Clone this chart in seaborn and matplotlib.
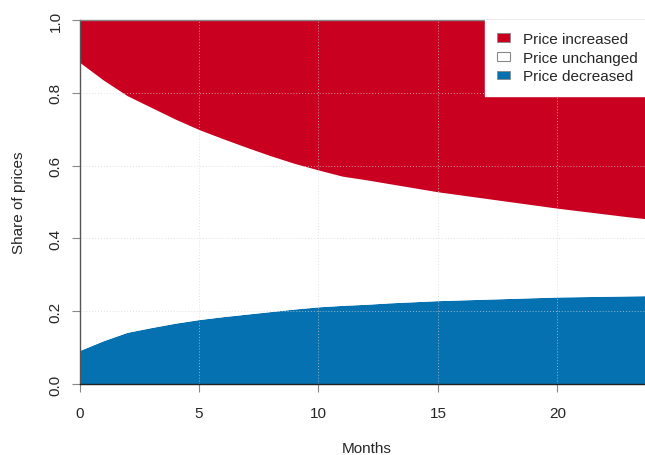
import matplotlib
matplotlib.use("Agg")
import matplotlib.pyplot as plt
import seaborn as sns
import pandas as pd
from matplotlib.patches import Patch

# =========================
# DATA (shares)
# =========================
months = list(range(0, 25))
share_decreased = [0.092, 0.119, 0.142, 0.155, 0.167, 0.177, 0.185, 0.192, 0.199, 0.206,
                   0.212, 0.216, 0.219, 0.223, 0.226, 0.229, 0.231, 0.233, 0.235, 0.237,
                   0.239, 0.240, 0.241, 0.242, 0.243]
share_unchanged = [0.792, 0.716, 0.650, 0.605, 0.561, 0.522, 0.489, 0.458, 0.428, 0.400,
                   0.376, 0.355, 0.342, 0.327, 0.313, 0.299, 0.288, 0.277, 0.266, 0.255,
                   0.244, 0.235, 0.226, 0.217, 0.209]
share_increased = [0.116, 0.165, 0.208, 0.240, 0.272, 0.301, 0.326, 0.350, 0.373, 0.394,
                   0.412, 0.429, 0.439, 0.450, 0.461, 0.472, 0.481, 0.490, 0.499, 0.508,
                   0.517, 0.525, 0.533, 0.541, 0.548]
labels = ["Price increased", "Price unchanged", "Price decreased"]

df = pd.DataFrame({"month": months, "decreased": share_decreased,
                   "unchanged": share_unchanged, "increased": share_increased})

# =========================
# STYLE
# =========================
sns.set_style("white")
plt.rcParams['font.family'] = ['Liberation Sans', 'DejaVu Sans']

red = "#ca0020"
blue = "#0571b0"

fig = plt.figure(figsize=(6.45, 4.56), dpi=100)
ax = fig.add_axes([79.5 / 645, 1 - 385 / 456, (653 - 79.5) / 645, (385 - 21) / 456])

ax.stackplot(df["month"], df["decreased"], df["unchanged"], df["increased"],
             colors=[blue, "white", red], linewidth=0, zorder=1)

ax.set_xlim(0, 24)
ax.set_ylim(0, 1)
ax.set_xticks([0, 5, 10, 15, 20])
ax.set_yticks([0.0, 0.2, 0.4, 0.6, 0.8, 1.0])
ax.set_yticklabels(["0.0", "0.2", "0.4", "0.6", "0.8", "1.0"], rotation=90, va="center")

# grid on top of areas, like R's grid()
for x in [5, 10, 15, 20]:
    ax.axvline(x, color="#d3d3d3", linestyle=(0, (1, 2)), linewidth=0.7, alpha=0.7, zorder=2)
for y in [0.2, 0.4, 0.6, 0.8]:
    ax.axhline(y, color="#d3d3d3", linestyle=(0, (1, 2)), linewidth=0.7, alpha=0.7, zorder=2)

ax.spines["right"].set_visible(False)
ax.spines["left"].set_color("#555555")
ax.spines["top"].set_color("#888888")
ax.spines["bottom"].set_color("#222222")
for sp in ax.spines.values():
    sp.set_linewidth(1.0)

ax.tick_params(axis="both", which="both", direction="out", length=6, width=0.8,
               color="#888888", labelsize=11, pad=6, left=True, bottom=True)
ax.tick_params(axis="x", pad=10)

ax.set_xlabel("Months", fontsize=11, va="center")
ax.xaxis.set_label_coords(0.5, -(449 - 385) / 364)
ax.set_ylabel("Share of prices", fontsize=11, va="center")
ax.yaxis.set_label_coords(-(79.5 - 19) / 573.5, 0.5)

handles = [Patch(facecolor=red, edgecolor="#888888", linewidth=0.6),
           Patch(facecolor="white", edgecolor="#888888", linewidth=0.8),
           Patch(facecolor=blue, edgecolor="#888888", linewidth=0.6)]
leg = ax.legend(handles, labels, loc="upper right", bbox_to_anchor=(0.994, 1.0),
                borderaxespad=0, frameon=True, fancybox=False, fontsize=11,
                handlelength=0.8, handleheight=0.5, handletextpad=0.85,
                labelspacing=0.3, borderpad=0.8)
leg.get_frame().set_edgecolor("white")
leg.get_frame().set_facecolor("white")
leg.get_frame().set_alpha(1.0)
leg.set_zorder(5)

fig.savefig("out.png", dpi=100)
